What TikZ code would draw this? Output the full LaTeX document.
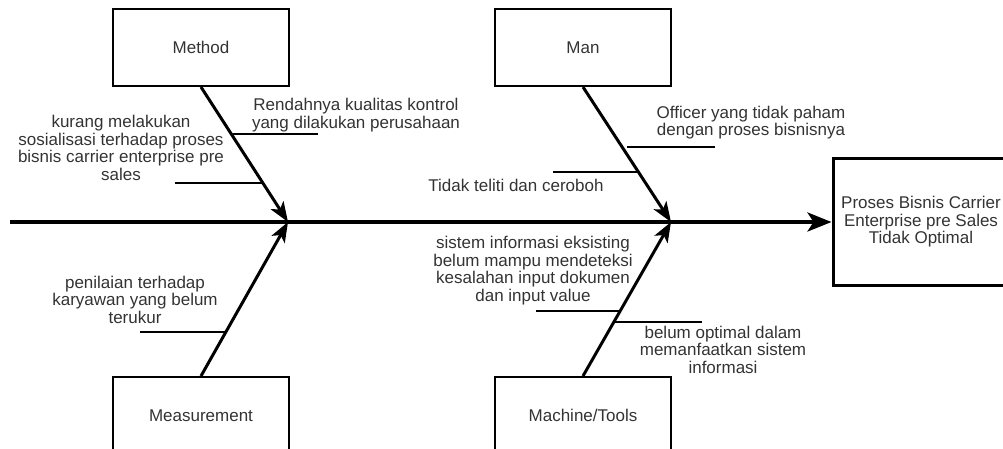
\documentclass[tikz,border=0pt]{standalone}
\usepackage{fontspec}
\setmainfont{Liberation Sans}
\usetikzlibrary{arrows.meta, positioning}
\definecolor{txt}{HTML}{333333}

\begin{document}
\begin{tikzpicture}[x=1pt, y=-1pt, >={Stealth[length=20pt,width=15pt,inset=5pt]},
    font=\fontsize{17}{17.5}\selectfont,
    cat/.style={draw, line width=2pt, minimum width=176pt, minimum height=77pt, inner sep=0pt, text=txt},
    cause/.style={align=center, inner sep=0pt, text=txt},
    spine/.style={->, line width=3pt},
    rib/.style={line width=1.8pt}]
    \useasboundingbox (0,0) rectangle (1003,448);

    % categories and effect
    \node[cat] (method) at (201,47.5) {Method};
    \node[cat] (man) at (583,47.5) {Man};
    \node[cat] (meas) [below=289pt of method] {Measurement};
    \node[cat] (mach) [below=289pt of man] {Machine/Tools};
    \node[cat, line width=3pt, minimum height=127pt, align=center] (effect) at (921,222)
        {Proses Bisnis Carrier\\Enterprise pre Sales\\Tidak Optimal};

    % backbone
    \coordinate (tail) at (10,222);
    \coordinate (jm) at (288,222);
    \coordinate (jp) at (671,222);
    \draw[->, line width=3.5pt, >={Stealth[length=24pt,width=19pt,inset=6pt]}] (tail) -- (effect.west);

    \path[spine]
    (method.south) edge (jm)
    (meas.north) edge (jm)
    (man.south) edge (jp)
    (mach.north) edge (jp);

    % causes
    \coordinate (m1a) at (233,134); \coordinate (m1b) at (318,134);
    \coordinate (m2a) at (175,183); \coordinate (m2b) at (263,183);
    \coordinate (p1a) at (627,147); \coordinate (p1b) at (715,147);
    \coordinate (p2a) at (553,172); \coordinate (p2b) at (640,172);
    \coordinate (s1a) at (140,332); \coordinate (s1b) at (226,332);
    \coordinate (t1a) at (536,311); \coordinate (t1b) at (620,311);
    \coordinate (t2a) at (613,322); \coordinate (t2b) at (702,322);
    \path[rib]
    (m1a) edge (m1b) (m2a) edge (m2b)
    (p1a) edge (p1b) (p2a) edge (p2b)
    (s1a) edge (s1b)
    (t1a) edge (t1b) (t2a) edge (t2b);

    \node[cause] (m1) at (356,115) {Rendahnya kualitas kontrol\\yang dilakukan perusahaan};
    \node[cause] (m2) at (121,148) {kurang melakukan\\sosialisasi terhadap proses\\bisnis carrier enterprise pre\\sales};
    \node[cause] (p1) at (751,122.5) {Officer yang tidak paham\\dengan proses bisnisnya};
    \node[cause] (p2) at (516,185) {Tidak teliti dan ceroboh};
    \node[cause] (s1) at (135,299.5) {penilaian terhadap\\karyawan yang belum\\terukur};
    \node[cause] (t1) at (533,270.5) {sistem informasi eksisting\\belum mampu mendeteksi\\kesalahan input dokumen\\dan input value};
    \node[cause] (t2) at (723,349.5) {belum optimal dalam\\memanfaatkan sistem\\informasi};
\end{tikzpicture}
\end{document}
